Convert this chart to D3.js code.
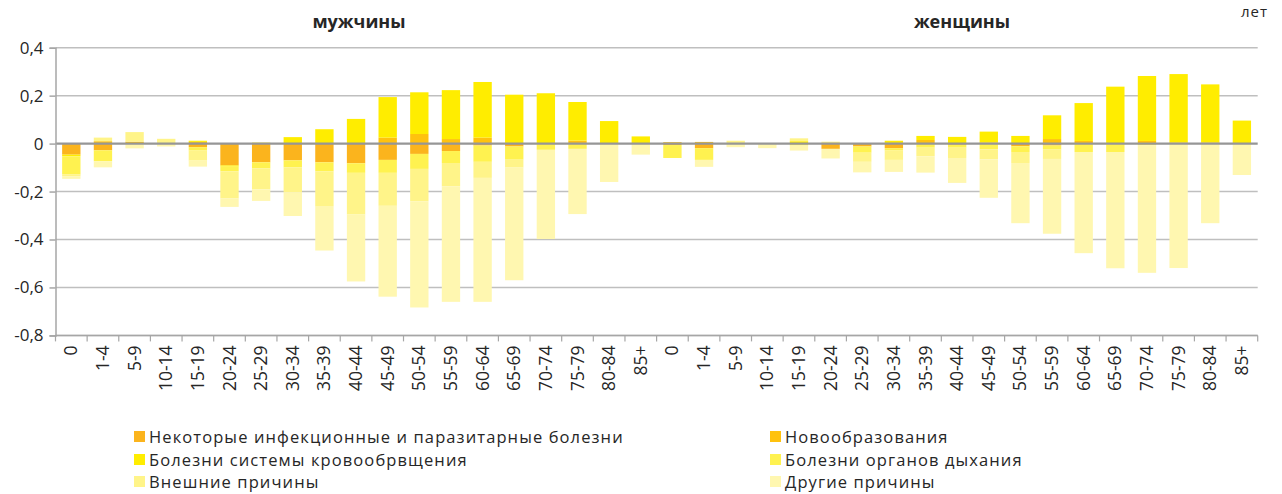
<!DOCTYPE html>
<html><head><meta charset="utf-8">
<script src="https://cdn.jsdelivr.net/npm/d3@7"></script>
<style>
body{margin:0;background:#fff;}
text{font-family:"Open Sans","Noto Sans",sans-serif;fill:#262626;}
</style></head>
<body><svg id="c" width="1282" height="494"></svg>
<script>
const ages = ["0","1-4","5-9","10-14","15-19","20-24","25-29","30-34","35-39","40-44","45-49","50-54","55-59","60-64","65-69","70-74","75-79","80-84","85+"];
const groups = ["мужчины","женщины"];
const yTicks = [0.4,0.2,0,-0.2,-0.4,-0.6,-0.8];
const seriesNames = ["Некоторые инфекционные и паразитарные болезни","Новообразования","Болезни системы кровообрвщения","Болезни органов дыхания","Внешние причины","Другие причины"];
const seriesColors = ["#FBB41D","#FFC20E","#FFED00","#FFF250","#FFF489","#FFF7B0"];

// values: men (19 ages) followed by women (19 ages)
const infectious = [-0.046,-0.028,0,0,-0.015,-0.091,-0.078,-0.07,-0.078,-0.082,-0.068,-0.043,-0.031,-0.008,-0.012,0,0,0,0,
                    -0.006,-0.019,0,0,0,-0.022,-0.012,-0.019,0,-0.005,0,-0.011,-0.008,0,0,0,0,0,0];
const neoplasms  = [0,0.01,0.008,0,0.007,0,0,0,0,0,0.025,0.04,0.019,0.025,0,0,0.0125,0,0,
                    0.006,0.007,0,0,0,0,0,0,0.015,0,0.005,0,0.019,0.011,0,0.011,0.005,0.005,0];
const circulatory= [-0.007,0,0,0,0.005,-0.005,0.004,0.027,0.06,0.103,0.169,0.174,0.204,0.232,0.204,0.21,0.161,0.094,0.03,
                    0,0,0,0,0.01,0,0,0.012,0.017,0.028,0.045,0.032,0.099,0.158,0.2375,0.271,0.285,0.242,0.096];
const respiratory= [-0.076,-0.046,0,0,-0.014,-0.02,-0.025,-0.029,-0.038,-0.04,-0.054,-0.0625,-0.05,-0.068,-0.055,-0.026,-0.022,0,0,
                    -0.054,-0.049,0,-0.003,-0.008,0,-0.026,-0.01,-0.017,-0.012,-0.024,-0.024,-0.017,-0.035,-0.035,-0.007,0,0,0];
const external   = [-0.007,0.015,0.04,0.02,-0.042,-0.113,-0.088,-0.105,-0.147,-0.174,-0.1375,-0.135,-0.097,-0.067,-0.033,0,0,0,0,
                    0,0,0.012,0,0.012,0.008,-0.038,-0.039,-0.036,-0.043,-0.042,-0.046,-0.039,0,0,0,0,0,0];
const other      = [-0.011,-0.025,-0.02,-0.012,-0.025,-0.035,-0.048,-0.098,-0.183,-0.279,-0.379,-0.443,-0.482,-0.517,-0.47,-0.372,-0.272,-0.16,-0.046,
                    0,-0.029,-0.015,-0.016,-0.021,-0.04,-0.044,-0.05,-0.068,-0.104,-0.16,-0.251,-0.312,-0.422,-0.485,-0.532,-0.519,-0.332,-0.131];

const seriesVals = [infectious,neoplasms,circulatory,respiratory,external,other];
const keys = seriesNames.map((d,i)=>"s"+i);
const labels = groups.flatMap(()=>ages);
const table = labels.map((a,i)=>{const r={idx:i}; keys.forEach((k,j)=>r[k]=seriesVals[j][i]); return r;});

const svg = d3.select("#c");
const L=55.5, R=1257.7, T=47.7, B=335.4;
const x = d3.scaleBand().domain(d3.range(labels.length)).range([L,R]).paddingInner(0.42).paddingOuter(0.21);
const y = d3.scaleLinear().domain([-0.8,0.4]).range([B,T]);
const gray="#A6A6A6";
const FONT="'Open Sans','Noto Sans',sans-serif";

// gridlines
svg.append("g").selectAll("line").data(yTicks.filter(v=>v!==0)).join("line")
  .attr("x1",L).attr("x2",R).attr("y1",d=>y(d)).attr("y2",d=>y(d))
  .attr("stroke","#BFBFBF").attr("stroke-width",1.5);

// bars
const stack = d3.stack().keys(keys).offset(d3.stackOffsetDiverging);
const stacked = stack(table);
svg.append("g").selectAll("g").data(stacked).join("g")
  .attr("fill",(d,i)=>seriesColors[i])
  .selectAll("rect").data(d=>d).join("rect")
  .attr("x",d=>x(d.data.idx)).attr("width",x.bandwidth())
  .attr("y",d=>y(Math.max(d[0],d[1]))).attr("height",d=>Math.abs(y(d[0])-y(d[1])));

// zero line
svg.append("line").attr("x1",L).attr("x2",R).attr("y1",y(0)).attr("y2",y(0))
  .attr("stroke","#969696").attr("stroke-width",2.2);

// y axis
const yAxis = d3.axisLeft(y).tickValues(yTicks).tickSize(6).tickPadding(6)
  .tickFormat(d=>d===0?"0":d3.format(".1f")(d).replace(".",",").replace("−","-"));
const gy = svg.append("g").attr("transform",`translate(${L},0)`).call(yAxis);
gy.select(".domain").attr("stroke",gray).attr("stroke-width",1.5);
gy.selectAll(".tick line").attr("stroke",gray).attr("stroke-width",1.5);
gy.selectAll("text").attr("font-size",17).attr("fill","#262626").style("font-family",FONT);

// x axis base line + boundary ticks
svg.append("line").attr("x1",L).attr("x2",R).attr("y1",B).attr("y2",B).attr("stroke",gray).attr("stroke-width",1.5);
svg.append("g").selectAll("line").data(d3.range(labels.length+1)).join("line")
  .attr("x1",d=>L+d*x.step()).attr("x2",d=>L+d*x.step()).attr("y1",B).attr("y2",B+6)
  .attr("stroke",gray).attr("stroke-width",1.2);

// x labels
const xAxis = d3.axisBottom(x).tickSize(0).tickPadding(0).tickFormat(i=>labels[i]);
const gx = svg.append("g").attr("transform",`translate(0,${B})`).call(xAxis);
gx.select(".domain").remove();
gx.selectAll("text").attr("font-size",17.5).attr("fill","#262626").style("font-family",FONT)
  .attr("text-anchor","end").attr("dy",null).attr("y",0)
  .attr("transform","translate(6,10) rotate(-90)");

// group titles
const titleX = [359, 962];
svg.append("g").selectAll("text").data(groups).join("text")
  .attr("x",(d,i)=>titleX[i]).attr("y",28).attr("text-anchor","middle")
  .attr("font-size",18).attr("font-weight","bold").text(d=>d);

svg.append("text").attr("x",1268).attr("y",17).attr("text-anchor","end")
  .attr("font-size",15).attr("letter-spacing",1).text("лет");

// legend
const legX=[134,770], legY=[437,460,482];
const lg = svg.append("g").selectAll("g").data(seriesNames).join("g")
  .attr("transform",(d,i)=>`translate(${legX[i%2]},${legY[Math.floor(i/2)]})`);
lg.append("rect").attr("x",0).attr("y",-6).attr("width",11).attr("height",11).attr("fill",(d,i)=>seriesColors[i]);
lg.append("text").attr("x",15).attr("y",0).attr("dy","0.35em").attr("font-size",16.5)
  .attr("letter-spacing",1.1).text(d=>d);
</script></body></html>
